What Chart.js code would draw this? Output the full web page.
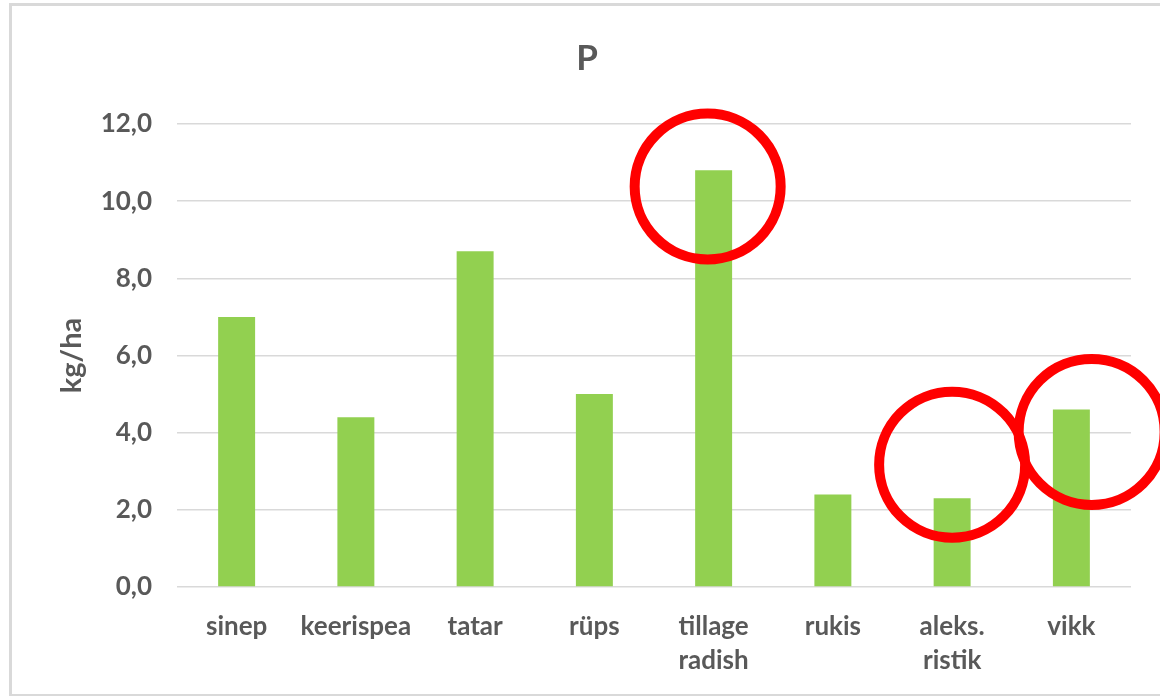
<!DOCTYPE html>
<html>
<head>
<meta charset="utf-8">
<script src="https://cdn.jsdelivr.net/npm/chart.js@4.4.1/dist/chart.umd.min.js"></script>
<style>
  html, body { margin: 0; padding: 0; background: #ffffff; }
  #wrap { width: 1160px; height: 696px; }
</style>
</head>
<body>
<div id="wrap"><canvas id="c" width="1160" height="696"></canvas></div>
<script>
// Phosphorus amount per cover crop
const categories = ['sinep', 'keerispea', 'tatar', 'rüps', ['tillage', 'radish'], 'rukis', ['aleks.', 'ristik'], 'vikk'];
const values = [7.0, 4.4, 8.7, 5.0, 10.8, 2.4, 2.3, 4.6];
const yTicks = [0, 2, 4, 6, 8, 10, 12];

// Highlight rings: position along the category axis (index) and on the value axis
const ringIndex = [3.95, 6.0, 7.17];
const ringValue = [10.38, 3.17, 4.02];

const textColor = '#595959';
const fontFamily = 'Lato, "Open Sans", sans-serif';

const frame = {
  id: 'frame',
  beforeDraw(chart) {
    const ctx = chart.ctx;
    ctx.save();
    ctx.fillStyle = '#ffffff';
    ctx.fillRect(0, 0, chart.width, chart.height);
    ctx.strokeStyle = '#d9d9d9';
    ctx.lineWidth = 3;
    ctx.strokeRect(10.5, 4.5, 1300, 691);
    ctx.restore();
  }
};

const rings = {
  id: 'rings',
  afterDatasetsDraw(chart) {
    const ctx = chart.ctx;
    const x = chart.scales.x, y = chart.scales.y;
    const step = x.width / categories.length;
    ctx.save();
    ctx.strokeStyle = '#ff0000';
    ctx.lineWidth = 10;
    for (let i = 0; i < ringIndex.length; i++) {
      const base = Math.floor(ringIndex[i]);
      const px = x.getPixelForValue(base) + (ringIndex[i] - base) * step;
      const py = y.getPixelForValue(ringValue[i]);
      ctx.beginPath();
      ctx.arc(px, py, 73, 0, Math.PI * 2);
      ctx.stroke();
    }
    ctx.restore();
  }
};

new Chart(document.getElementById('c'), {
  type: 'bar',
  data: {
    labels: categories,
    datasets: [{
      data: values,
      backgroundColor: '#92d050',
      categoryPercentage: 1,
      barPercentage: 0.31
    }]
  },
  options: {
    responsive: false,
    animation: false,
    layout: { padding: { left: 43, right: 29, top: 0, bottom: 0 } },
    plugins: {
      legend: { display: false },
      tooltip: { enabled: false },
      title: {
        display: true,
        text: 'P',
        color: textColor,
        font: { family: fontFamily, size: 35, weight: 'bold', lineHeight: 1.2 },
        padding: { top: 38, bottom: 44 }
      }
    },
    scales: {
      x: {
        grid: { display: false, drawTicks: false },
        border: { display: false },
        ticks: {
          color: textColor,
          padding: 23,
          maxRotation: 0,
          autoSkip: false,
          font: { family: fontFamily, size: 26, weight: 'bold', lineHeight: 1.3 }
        },
        afterFit(scale) { scale.height = 109; }
      },
      y: {
        min: 0,
        max: 12,
        afterBuildTicks(scale) { scale.ticks = yTicks.map(v => ({ value: v })); },
        grid: { color: '#d9d9d9', lineWidth: 1.5, drawTicks: false },
        border: { display: false },
        ticks: {
          color: textColor,
          padding: 25,
          font: { family: fontFamily, size: 26, weight: 'bold' },
          callback: v => v.toFixed(1).replace('.', ',')
        },
        title: {
          display: true,
          text: 'kg/ha',
          color: textColor,
          font: { family: fontFamily, size: 29, weight: 'bold', lineHeight: 1.2 },
          padding: { top: 11, bottom: 0 }
        },
        afterFit(scale) { scale.width = 134; }
      }
    }
  },
  plugins: [frame, rings]
});
</script>
</body>
</html>
